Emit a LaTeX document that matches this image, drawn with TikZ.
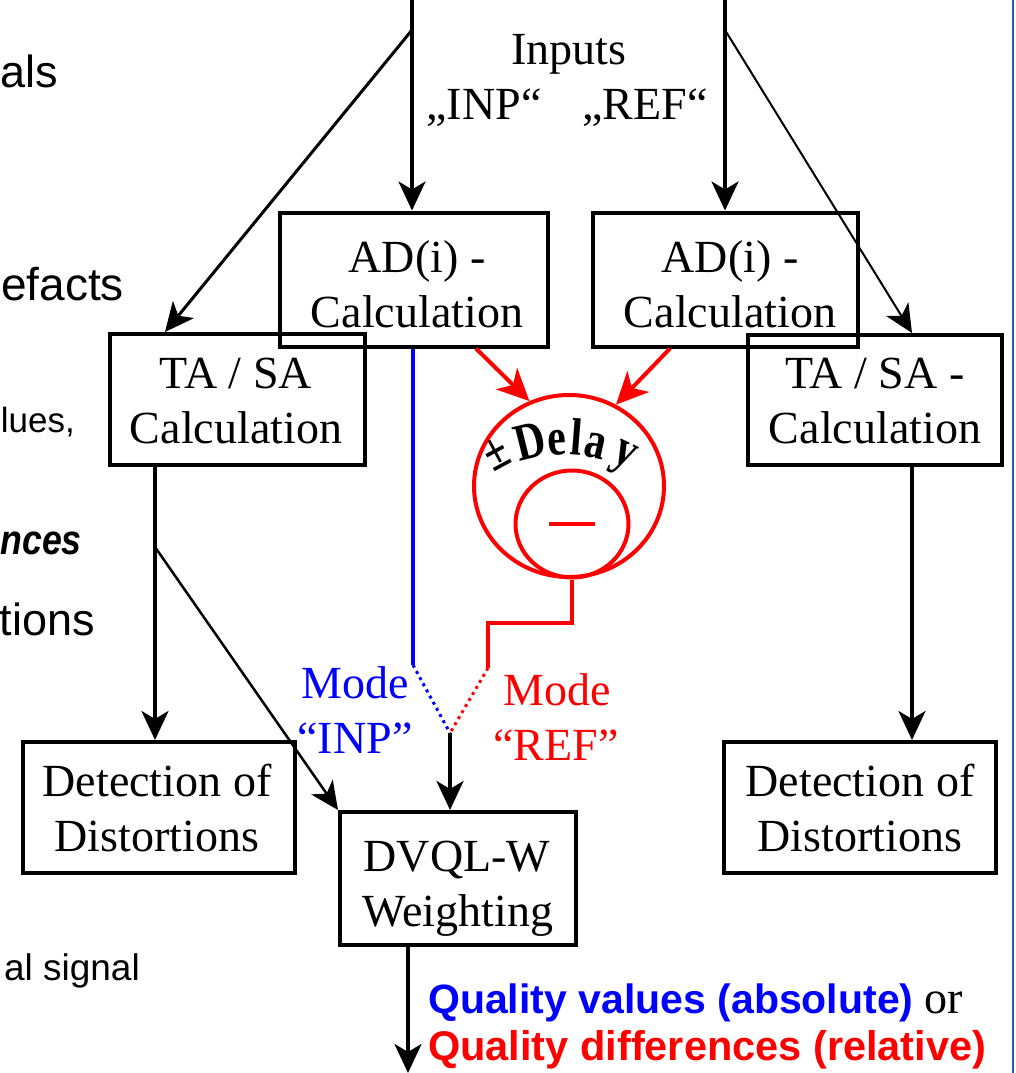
\documentclass[tikz,border=0pt]{standalone}
\usepackage{fontspec}
\setmainfont{Liberation Serif}
\newfontfamily\arialfont{Liberation Sans}
\usetikzlibrary{arrows.meta,shapes.geometric,calc}

\definecolor{inpblue}{RGB}{0,0,255}
\definecolor{refred}{RGB}{255,0,0}
\definecolor{frameblue}{RGB}{30,90,200}

\tikzset{
  blockbox/.style={draw, line width=4pt, rectangle, inner sep=0pt},
  lbl/.style={anchor=base, inner sep=0pt, font=\fontsize{46}{55}\selectfont},
  sidelbl/.style={anchor=base east, inner sep=0pt},
  arr/.style={line width=3.5pt, -{Stealth[length=29pt,width=27pt,inset=8pt]}},
  thinarr/.style={line width=2pt, -{Stealth[length=28pt,width=26pt,inset=8pt]}},
  redarr/.style={draw=refred, line width=4pt, -{Stealth[length=32pt,width=30pt,inset=9pt]}},
  redring/.style={draw=refred, line width=4pt, ellipse, inner sep=0pt},
  modeline/.style={line width=3.5pt},
  modedots/.style={line width=3pt, dash pattern={on 3pt off 4pt}},
  arcglyph/.style={anchor=base, inner sep=0pt, font=\bfseries\fontsize{42}{46}\selectfont},
}

\begin{document}
\begin{tikzpicture}[x=1pt, y=-1pt]
\useasboundingbox (0,0) rectangle (1015,1073);
\clip (0,0) rectangle (1015,1073);

% frame rule on the right
\draw[frameblue, line width=2.5pt] (1013,0) -- (1013,1073);

% text running in from the left margin
\node[sidelbl, font=\arialfont\fontsize{45}{50}\selectfont] (sa) at (58,88) {als};
\node[sidelbl, font=\arialfont\fontsize{46}{50}\selectfont] (sb) at (124,300) {efacts};
\node[sidelbl, font=\arialfont\fontsize{35}{40}\selectfont] (sc) at (75,432) {lues,};
\node[sidelbl, font=\arialfont\bfseries\itshape\fontsize{42}{46}\selectfont, xscale=0.85] (sd) at (82,554) {nces};
\node[sidelbl, font=\arialfont\fontsize{45}{50}\selectfont] (se) at (95,635) {tions};
\node[sidelbl, font=\arialfont\fontsize{37}{42}\selectfont] (sf) at (140,980) {al signal};

% input labels
\node[lbl] (inputs) at (569,64) {Inputs};
\node[lbl] (inpname) at (484,119) {„INP“};
\node[lbl] (refname) at (645,119) {„REF“};

% blocks
\node[blockbox, minimum width=268pt, minimum height=134pt] (adl) at (414,279.5) {};
\node[lbl] (adlt1) at (417,272) {AD(i) -};
\node[lbl] (adlt2) at (417,327) {Calculation};

\node[blockbox, minimum width=265pt, minimum height=134pt] (adr) at (725.5,279.5) {};
\node[lbl] (adrt1) at (730,272) {AD(i) -};
\node[lbl] (adrt2) at (730,327) {Calculation};

\node[blockbox, minimum width=255pt, minimum height=131pt] (tal) at (237.5,399.5) {};
\node[lbl] (talt1) at (236,388) {TA / SA};
\node[lbl] (talt2) at (236,443) {Calculation};

\node[blockbox, minimum width=254pt, minimum height=130pt] (tar) at (875,400) {};
\node[lbl] (tart1) at (875,388) {TA / SA -};
\node[lbl] (tart2) at (875,443) {Calculation};

\node[blockbox, minimum width=272pt, minimum height=131pt] (dl) at (159,807.5) {};
\node[lbl] (dlt1) at (157,796) {Detection of};
\node[lbl] (dlt2) at (157,851) {Distortions};

\node[blockbox, minimum width=272pt, minimum height=131pt] (dr) at (860,807.5) {};
\node[lbl] (drt1) at (860,796) {Detection of};
\node[lbl] (drt2) at (860,851) {Distortions};

\node[blockbox, minimum width=236pt, minimum height=133pt] (dvql) at (458,878.5) {};
\node[lbl] (dvt1) at (457,871) {DVQL-W};
\node[lbl] (dvt2) at (458,926) {Weighting};

% delay compensation and difference
\node[redring, minimum width=190pt, minimum height=182pt] (delay) at (569,486) {};
\node[redring, minimum width=113pt, minimum height=107pt] (diff) at (572,524)
  {\textcolor{refred}{\rule[-1.5pt]{46pt}{3.5pt}}};
% the arched label, one tall glyph at a time along a circle about (565,620)
\foreach \ch/\a in {±/-21.8, D/-10.8, e/-2.6, l/3.5, a/9.8, y/19.6}
  \node[arcglyph, rotate=-1.3*\a] at ({565+165*sin(\a)},{620-165*cos(\a)})
    {\scalebox{1}[1.25]{\ch}};

% mode labels
\node[lbl, text=inpblue] (minp1) at (355,698) {Mode};
\node[lbl, text=inpblue] (minp2) at (355,753) {“INP”};
\node[lbl, text=refred] (mref1) at (557,705) {Mode};
\node[lbl, text=refred] (mref2) at (556,760) {“REF”};

% result labels
\node[anchor=base west, inner sep=0pt] (q1) at (428,1013)
  {{\arialfont\bfseries\fontsize{41}{46}\selectfont\textcolor{inpblue}{Quality values (absolute)}}\fontsize{46}{50}\selectfont\ or};
\node[anchor=base west, inner sep=0pt] (q2) at (428,1060)
  {\arialfont\bfseries\fontsize{41.5}{46}\selectfont\textcolor{refred}{Quality differences (relative)}};

% points of the signal flow
\coordinate (inL) at (412,0);
\coordinate (inR) at (725,0);
\coordinate (splitL) at (412,30);
\coordinate (splitR) at (725,30);
\coordinate (tipTL) at (165,0);
\coordinate (colL) at (155,0);
\coordinate (colR) at (912,0);
\coordinate (brT) at (155,547);
\coordinate (xInp) at (413,0);
\coordinate (mINP) at (413,665);
\coordinate (jog) at (488,623);
\coordinate (mREF) at (488,668);
\coordinate (sw) at (450,733);
\coordinate (xRa) at (476,0);
\coordinate (xRb) at (670,0);
\coordinate (xOut) at (408,0);
\coordinate (out) at (408,1073);

% inputs
\draw[arr] (inL) -- (inL |- adl.north);
\draw[arr] (inR) -- (inR |- adr.north);
\draw[arr, line width=3pt] (splitL) -- (tipTL |- tal.north);
\draw[thinarr] (splitR) -- (colR |- tar.north);

% into the delay / difference stage
\draw[redarr] (xRa |- adl.south) -- (delay.115);
\draw[redarr] (xRb |- adr.south) -- (delay.60);

% mode switch
\draw[modeline, inpblue] (xInp |- adl.south) -- (mINP);
\draw[modeline, refred] (diff.south) |- (jog) -- (mREF);
\draw[modedots, inpblue] (mINP) -- (sw);
\draw[modedots, refred] (mREF) -- (sw);
\draw[arr] (sw) -- (sw |- dvql.north);

% distortion detection
\draw[arr] (colL |- tal.south) -- (colL |- dl.north);
\draw[arr] (colR |- tar.south) -- (colR |- dr.north);
\draw[thinarr, line width=2.5pt] (brT) -- (dvql.north west);

% output
\draw[arr] (xOut |- dvql.south) -- (out);
\end{tikzpicture}
\end{document}
